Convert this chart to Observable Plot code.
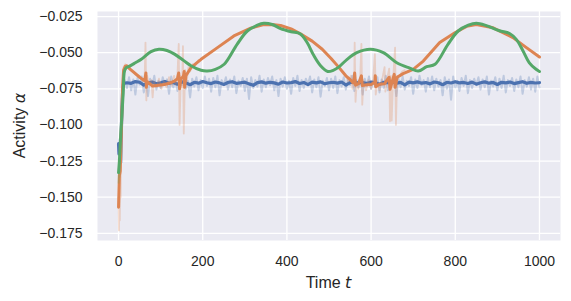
<!DOCTYPE html>
<html><head><meta charset="utf-8">
<script src="https://cdn.jsdelivr.net/npm/d3@7"></script>
<script src="https://cdn.jsdelivr.net/npm/@observablehq/plot@0.6"></script>
<style>body{margin:0;background:#fff} svg{display:block}</style>
</head><body><div id="chart"></div>
<script>
const xTicks = [0, 200, 400, 600, 800, 1000];
const yTicks = [-0.175, -0.15, -0.125, -0.1, -0.075, -0.05, -0.025];

// Blue (thick, smoothed)
const tBlue = [0,1,2,4,5,6,8,10,12,
 20,30,40,50,60,70,80,90,100,110,120,130,140,150,160,170,180,190,200,210,
 220,230,240,250,260,270,280,290,300,310,320,330,340,350,360,370,380,390,400,410,
 420,430,440,450,460,470,480,490,500,510,520,530,540,550,560,570,580,590,600,610,
 620,630,640,650,660,670,680,690,700,710,720,730,740,750,760,770,780,790,800,810,
 820,830,840,850,860,870,880,890,900,910,920,930,940,950,960,970,980,990,1000];
const blue = [-0.113,-0.120,-0.114,-0.118,-0.126,-0.110,-0.090,-0.075,-0.0712,
 -0.0708,-0.0712,-0.0700,-0.0705,-0.0725,-0.0710,-0.0703,-0.0715,-0.0708,-0.0700,
 -0.0712,-0.0706,-0.0718,-0.0702,-0.0709,-0.0722,-0.0705,-0.0711,-0.0700,-0.0708,
 -0.0714,-0.0703,-0.0709,-0.0720,-0.0706,-0.0701,-0.0712,-0.0708,-0.0704,-0.0716,
 -0.0726,-0.0707,-0.0702,-0.0711,-0.0705,-0.0709,-0.0718,-0.0703,-0.0710,-0.0707,
 -0.0700,-0.0713,-0.0706,-0.0721,-0.0704,-0.0709,-0.0702,-0.0715,-0.0708,-0.0705,
 -0.0711,-0.0703,-0.0724,-0.0707,-0.0701,-0.0710,-0.0706,-0.0714,-0.0703,-0.0709,
 -0.0719,-0.0705,-0.0708,-0.0700,-0.0712,-0.0706,-0.0723,-0.0704,-0.0709,-0.0702,
 -0.0711,-0.0707,-0.0716,-0.0703,-0.0708,-0.0722,-0.0705,-0.0710,-0.0701,-0.0709,
 -0.0706,-0.0713,-0.0704,-0.0718,-0.0708,-0.0702,-0.0711,-0.0706,-0.0720,-0.0705,
 -0.0709,-0.0703,-0.0714,-0.0707,-0.0701,-0.0712,-0.0706,-0.0710,-0.0708];

// Blue (raw, faint)
const tBlueRaw = [0,2,4,6,8].concat(d3.range(10, 1001, 5));
const blueRaw = [-0.118,-0.110,-0.122,-0.105,-0.085,
 -0.0735,-0.0690,-0.0745,-0.0670,-0.0760,-0.0685,-0.0790,-0.0675,-0.0720,-0.0665,
 -0.0775,-0.0690,-0.0800,-0.0680,-0.0730,-0.0660,-0.0755,-0.0695,-0.0745,-0.0670,
 -0.0720,-0.0685,-0.0785,-0.0665,-0.0740,-0.0690,-0.0765,-0.0675,-0.0725,-0.0660,
 -0.0750,-0.0695,-0.0810,-0.0680,-0.0735,-0.0670,-0.0760,-0.0690,-0.0745,-0.0665,
 -0.0730,-0.0680,-0.0770,-0.0675,-0.0740,-0.0660,-0.0795,-0.0690,-0.0725,-0.0670,
 -0.0755,-0.0685,-0.0740,-0.0665,-0.0780,-0.0695,-0.0730,-0.0675,-0.0765,-0.0680,
 -0.0820,-0.0670,-0.0745,-0.0690,-0.0735,-0.0660,-0.0770,-0.0685,-0.0740,-0.0675,
 -0.0725,-0.0665,-0.0760,-0.0690,-0.0800,-0.0680,-0.0735,-0.0670,-0.0750,-0.0695,
 -0.0785,-0.0675,-0.0730,-0.0660,-0.0765,-0.0690,-0.0745,-0.0680,-0.0720,-0.0665,
 -0.0775,-0.0685,-0.0740,-0.0670,-0.0805,-0.0695,-0.0730,-0.0675,-0.0760,-0.0680,
 -0.0745,-0.0665,-0.0780,-0.0690,-0.0735,-0.0670,-0.0755,-0.0685,-0.0725,-0.0660,
 -0.0765,-0.0690,-0.0740,-0.0675,-0.0790,-0.0680,-0.0730,-0.0665,-0.0750,-0.0695,
 -0.0735,-0.0670,-0.0775,-0.0685,-0.0745,-0.0660,-0.0760,-0.0690,-0.0720,-0.0675,
 -0.0800,-0.0680,-0.0740,-0.0665,-0.0755,-0.0695,-0.0730,-0.0670,-0.0785,-0.0685,
 -0.0745,-0.0660,-0.0725,-0.0690,-0.0770,-0.0675,-0.0740,-0.0665,-0.0760,-0.0680,
 -0.0735,-0.0690,-0.0795,-0.0670,-0.0750,-0.0685,-0.0825,-0.0665,-0.0740,-0.0695,
 -0.0765,-0.0675,-0.0730,-0.0660,-0.0780,-0.0690,-0.0745,-0.0680,-0.0725,-0.0670,
 -0.0755,-0.0685,-0.0740,-0.0665,-0.0790,-0.0695,-0.0735,-0.0670,-0.0760,-0.0680,
 -0.0745,-0.0660,-0.0775,-0.0690,-0.0730,-0.0675,-0.0765,-0.0685,-0.0740,-0.0665,
 -0.0785,-0.0690,-0.0735,-0.0670,-0.0755,-0.0680,-0.0770,-0.0665,-0.0740];

// Orange (thick)
const tOrange = [0,1,2,4,6,8,10,12,16,19,28,38,50,62,65,66,68,81,95,109,120,133,140,143,145,148,154,156,157,160,
 172,196,235,274,314,345,365,385,410,432,460,484,505,523,540,550,558,561,563,570,577,579,589,600,609,610,611,
 620,632,643,645,650,655,657,662,676,700,724,763,800,827,850,890,937,969,1000];
const orange = [-0.157,-0.146,-0.135,-0.132,-0.112,-0.090,-0.072,-0.062,-0.0595,-0.059,-0.0615,-0.064,-0.067,-0.0695,-0.064,-0.074,-0.070,-0.0731,-0.0725,-0.072,-0.0712,-0.0697,-0.068,-0.064,-0.075,-0.068,-0.0665,-0.063,-0.074,-0.066,
 -0.0604,-0.0546,-0.0465,-0.0384,-0.033,-0.0306,-0.0305,-0.0312,-0.0335,-0.037,-0.042,-0.0476,-0.054,-0.060,-0.066,-0.0685,-0.071,-0.064,-0.0725,-0.0715,-0.066,-0.0728,-0.0722,-0.072,-0.0705,-0.066,-0.0735,
 -0.0718,-0.0715,-0.067,-0.0754,-0.070,-0.065,-0.074,-0.067,-0.0645,-0.0615,-0.0558,-0.043,-0.036,-0.0318,-0.0305,-0.0328,-0.0396,-0.0465,-0.053];

// Orange (raw, faint) — null marks a gap
const tOrangeRaw = [0,1,2,3,4,5,6,8,10,12,16,20,30,40,50,58,62,64,66,68,72,78,81,84,90,96,102,108,114,120,126,132,136,140,143,145,148,151,153,155,158,162,166,170,176,182,190,
 200,
 540,546,552,556,560,561,563,566,570,574,577,579,582,588,594,600,605,609,611,615,620,626,632,634,638,643,645,647,649,652,657,659,662,668,674,680];
const orangeRaw = [-0.150,-0.173,-0.142,-0.166,-0.130,-0.150,-0.110,-0.090,-0.070,-0.060,-0.058,-0.060,-0.062,-0.065,-0.066,-0.070,-0.068,-0.043,-0.083,-0.066,-0.072,-0.069,-0.081,-0.070,-0.074,-0.068,-0.075,-0.070,-0.074,-0.067,-0.073,-0.066,-0.072,-0.065,-0.044,-0.100,-0.066,-0.074,-0.0455,-0.106,-0.062,-0.070,-0.060,-0.063,-0.058,-0.059,-0.055,
 null,
 -0.066,-0.070,-0.066,-0.075,-0.068,-0.043,-0.084,-0.070,-0.075,-0.068,-0.044,-0.086,-0.069,-0.076,-0.069,-0.075,-0.068,-0.051,-0.079,-0.070,-0.076,-0.069,-0.060,-0.077,-0.068,-0.061,-0.0975,-0.066,-0.097,-0.070,-0.0465,-0.100,-0.066,-0.066,-0.063,-0.062];

// Green (thick)
const tGreen = [0,2,5,8,11,14,18,25,40,54,77,96,115,133,155,172,196,211,230,251,282,306,330,345,365,385,410,432,448,464,480,497,510,
 523,543,566,598,629,661,692,712,732,752,783,807,831,850,874,905,929,945,961,976,992,1000];
const green = [-0.133,-0.125,-0.108,-0.093,-0.078,-0.063,-0.0605,-0.0595,-0.057,-0.0546,-0.0493,-0.0476,-0.0485,-0.051,-0.0555,-0.059,-0.0622,-0.0627,-0.0615,-0.058,-0.044,-0.035,-0.031,-0.0297,-0.0305,-0.0333,-0.0355,-0.037,-0.043,-0.052,-0.059,-0.063,-0.0622,
 -0.060,-0.0546,-0.050,-0.0476,-0.050,-0.057,-0.0607,-0.0627,-0.0597,-0.058,-0.044,-0.035,-0.031,-0.0297,-0.0313,-0.0348,-0.0367,-0.0408,-0.0488,-0.057,-0.0615,-0.063];

// Green (raw, faint)
const tGreenRaw = [0,1,2,3,4];
const greenRaw = [-0.140,-0.128,-0.136,-0.120,-0.124];

const rows = (ts, vs) => ts.map((t, i) => ({t, v: vs[i]}));
const C = {blue: "#4C72B0", orange: "#DD8452", green: "#55A868"};

const chart = Plot.plot({
  width: 571, height: 301,
  marginLeft: 97, marginRight: 11, marginTop: 11, marginBottom: 61,
  style: {fontFamily: "'Liberation Sans', Arial, sans-serif", fontSize: "14px", background: "#fff", color: "#262626"},
  x: {domain: [-50, 1050]},
  y: {domain: [-0.1800, -0.0215]},
  marks: [
    Plot.frame({fill: "#EAEAF2", stroke: "none"}),
    Plot.gridX(xTicks, {stroke: "#fff", strokeOpacity: 1, strokeWidth: 1.3}),
    Plot.gridY(yTicks, {stroke: "#fff", strokeOpacity: 1, strokeWidth: 1.3}),
    Plot.axisX(xTicks, {tickSize: 0, tickPadding: 16, label: null, tickFormat: d => String(d), fill: "#262626"}),
    Plot.axisY(yTicks, {tickSize: 0, tickPadding: 15, label: null, tickFormat: d3.format(".3f"), fill: "#262626"}),
    Plot.line(rows(tBlueRaw, blueRaw), {x: "t", y: "v", stroke: C.blue, strokeOpacity: 0.28, strokeWidth: 2}),
    Plot.line(rows(tBlue, blue), {x: "t", y: "v", stroke: C.blue, strokeWidth: 3.2}),
    Plot.line(rows(tOrangeRaw, orangeRaw), {x: "t", y: "v", stroke: C.orange, strokeOpacity: 0.28, strokeWidth: 1.8}),
    Plot.line(rows(tOrange, orange), {x: "t", y: "v", stroke: C.orange, strokeWidth: 3}),
    Plot.line(rows(tGreenRaw, greenRaw), {x: "t", y: "v", stroke: C.green, strokeOpacity: 0.28, strokeWidth: 1.8}),
    Plot.line(rows(tGreen, green), {x: "t", y: "v", stroke: C.green, strokeWidth: 3, curve: "catmull-rom"})
  ]
});
document.getElementById("chart").appendChild(chart);

// Axis titles with italic math symbols
const svg = d3.select(chart);
const xl = svg.append("text").attr("x", 328.5).attr("y", 288).attr("text-anchor", "middle")
  .attr("font-size", 16).attr("fill", "#262626");
xl.append("tspan").text("Time ");
xl.append("tspan").attr("font-family", "'DejaVu Sans'").attr("font-style", "italic").text("t");
const yl = svg.append("text").attr("transform", "translate(25,125.5) rotate(-90)").attr("text-anchor", "middle")
  .attr("font-size", 16).attr("fill", "#262626");
yl.append("tspan").text("Activity ");
yl.append("tspan").attr("font-family", "'DejaVu Sans'").attr("font-style", "italic").text("α");
</script>
</body></html>
